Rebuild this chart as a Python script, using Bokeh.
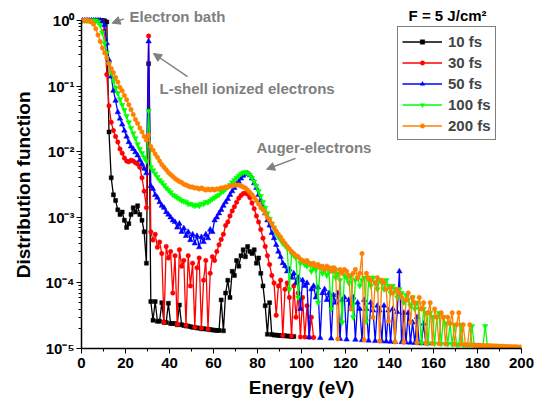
import numpy as np
from bokeh.plotting import figure
from bokeh.models import (FixedTicker, Legend, LegendItem, Label, Arrow, NormalHead,
                          CustomJSTickFormatter, Range1d)
from bokeh.embed import file_html
from bokeh.resources import INLINE

# energy grid (eV), 1 eV bins centred on half-integers
energy = np.arange(0.5, 200.0, 1.0)

f_10fs = [
    1.0, 1.0, 1.0, 1.0, 1.0, 1.0, 1.0, 1.0, 1.0, 1.0,
    0.99, 0.95, 0.02, 4e-3, 2.2e-3, 1.8e-3, 1.3e-3, 1.1e-3, 1.2e-3, 9e-4,
    7e-4, 8e-4, 1.1e-3, 1.4e-3, 1.2e-3, 1.5e-3, 1.1e-3, 9e-4, 6e-4, 2e-4,
    0.22, 5.2e-5, 2.7e-5, 5.2e-5, 2.6e-5, 2.6e-5, 5e-5, 2.5e-5, 2.5e-5, 4.9e-5,
    2.4e-5, 2.4e-5, 2.4e-5, 2.3e-5, 4.6e-5, 2.3e-5, 2.25e-5, 2.2e-5, 2.2e-5, 2.15e-5,
    2.1e-5, 2.1e-5, 2.05e-5, 2.05e-5, 2.0e-5, 2.0e-5, 1.98e-5, 1.96e-5, 1.94e-5, 1.92e-5,
    1.9e-5, 1.88e-5, 1.88e-5, 5.5e-5, 1.86e-5, 7e-5, 1.1e-4, 6e-5, 1.5e-4, 1.3e-4,
    2.2e-4, 1.8e-4, 2.6e-4, 3.2e-4, 2.5e-4, 3.6e-4, 3.0e-4, 2.8e-4, 3.2e-4, 2.0e-4,
    2.4e-4, 1.4e-4, 9e-5, 4.5e-5, 1.65e-5, 5e-5, 1.63e-5, 1.6e-5, 1.6e-5, 1.58e-5,
    1.58e-5, 1.57e-5, 1.56e-5, 1.55e-5, 1.54e-5, 1.53e-5, 1.52e-5,
]

f_30fs = [
    1.0, 1.0, 1.0, 1.0, 1.0, 1.0, 1.0, 1.0, 1.0, 0.97,
    0.7, 0.15, 0.05, 0.028, 0.021, 0.017, 0.014, 0.011, 9.5e-3, 8e-3,
    7.2e-3, 7.0e-3, 7.4e-3, 7.2e-3, 6.8e-3, 6.5e-3, 5.8e-3, 4e-3, 2.5e-3, 1.4e-3,
    0.58, 6e-4, 4.5e-4, 5.5e-4, 3.5e-4, 4.2e-4, 2.8e-4, 2.5e-5, 3.6e-4, 2.4e-4,
    3.0e-4, 7e-5, 2.6e-4, 2.35e-5, 3.2e-4, 1.8e-4, 2.2e-4, 2.25e-5, 2.6e-4, 9e-5,
    2.0e-4, 2.1e-5, 1.7e-4, 2.4e-4, 2.05e-5, 1.1e-4, 2.2e-4, 1.96e-5, 1.4e-4, 2.5e-4,
    2.2e-4, 3.0e-4, 3.8e-4, 4.6e-4, 5.5e-4, 7.5e-4, 8.5e-4, 1.05e-3, 1.25e-3, 1.45e-3,
    1.7e-3, 1.95e-3, 2.15e-3, 2.3e-3, 2.35e-3, 2.25e-3, 2.0e-3, 1.65e-3, 1.35e-3, 1.05e-3,
    8.5e-4, 6.5e-4, 4.8e-4, 3.6e-4, 2.6e-4, 1.9e-4, 1.3e-4, 1.0e-4, 3.2e-5, 9e-5,
    1.1e-4, 1.58e-5, 8e-5, 1.0e-4, 6e-5, 1.55e-5, 9e-5, 3e-5, 7e-5, 1.5e-5,
    6e-5, 1.5e-5, 4.5e-5, 1.48e-5, 3e-5, 1.47e-5,
]

f_50fs = [
    1.0, 1.0, 1.0, 1.0, 1.0, 1.0, 1.0, 1.0, 1.0, 0.98,
    0.85, 0.45, 0.25, 0.14, 0.085, 0.06, 0.04, 0.032, 0.026, 0.021,
    0.017, 0.014, 0.012, 0.011, 0.0098, 0.0088, 0.0075, 0.0065, 0.0055, 0.0047,
    0.48, 0.003, 0.0027, 0.0022, 0.002, 0.0017, 0.0015, 0.0014, 0.0012, 0.0011,
    0.001, 0.0009, 0.00085, 0.0007, 0.0008, 0.0006, 0.00068, 0.00052, 0.0006, 0.00045,
    0.00055, 0.0004, 0.00052, 0.00035, 0.0005, 0.00042, 0.00055, 0.00048, 0.00065, 0.0006,
    9e-4, 1.0e-3, 1.15e-3, 1.3e-3, 1.5e-3, 1.7e-3, 1.9e-3, 2.2e-3, 2.5e-3, 2.8e-3,
    3.2e-3, 3.5e-3, 3.9e-3, 4.3e-3, 4.6e-3, 4.7e-3, 4.4e-3, 3.9e-3, 3.3e-3, 2.8e-3,
    2.2e-3, 1.8e-3, 1.45e-3, 1.15e-3, 9e-4, 7.5e-4, 5.8e-4, 4.8e-4, 3.8e-4, 3.0e-4,
    2.5e-4, 2.0e-4, 1.8e-4, 1.5e-4, 1.6e-4, 1.2e-4, 1.4e-4, 1.0e-4, 1.2e-4, 4e-5,
    1.1e-4, 9e-5, 1.0e-4, 1.48e-5, 8e-5, 9e-5, 6e-5, 8.5e-5, 1.45e-5, 7e-5,
    8e-5, 5.5e-5, 7e-5, 1.42e-5, 6.5e-5, 5e-5, 7e-5, 1.4e-5, 5.5e-5, 6e-5,
    1.37e-5, 5.5e-5, 4e-5, 6e-5, 1.36e-5, 5e-5, 4e-5, 1.34e-5, 5.5e-5, 4e-5,
    1.32e-5, 5e-5, 3.8e-5, 1.3e-5, 4.5e-5, 3.8e-5, 1.29e-5, 4.5e-5, 1.28e-5, 3.8e-5,
    1.27e-5, 4e-5, 1.26e-5, 3.6e-5, 1.5e-4, 1.25e-5, 3.5e-5, 1.24e-5, 3.5e-5, 1.23e-5,
    2.5e-5, 1.22e-5, 3e-5, 1.21e-5, 1.21e-5, 2.4e-5, 1.2e-5, 1.2e-5,
]

f_100fs = [
    1.0, 1.0, 1.0, 1.0, 1.0, 1.0, 1.0, 0.95, 0.85, 0.65,
    0.45, 0.32, 0.22, 0.16, 0.12, 0.095, 0.078, 0.063, 0.052, 0.043,
    0.035, 0.028, 0.023, 0.019, 0.016, 0.013, 0.011, 0.0095, 0.0082, 0.0072,
    0.042, 0.0058, 0.0052, 0.0046, 0.0041, 0.0037, 0.0034, 0.0031, 0.0028, 0.0026,
    0.0024, 0.0022, 0.0021, 0.002, 0.0019, 0.0018, 0.00175, 0.0017, 0.0016, 0.0016,
    0.00155, 0.0015, 0.00155, 0.0015, 0.0016, 0.0016, 0.0017, 0.0017, 0.0018, 0.0019,
    0.002, 0.0021, 0.0022, 0.0024, 0.0025, 0.0027, 0.0029, 0.0031, 0.0034, 0.0037,
    0.004, 0.0043, 0.0046, 0.0048, 0.0049, 0.0047, 0.0044, 0.004, 0.0035, 0.003,
    0.0025, 0.0021, 0.0017, 0.0014, 0.00115, 0.00095, 0.0008, 0.00068, 0.00058, 0.0005,
    0.00045, 0.0004, 0.00037, 0.00034, 8e-5, 0.00028, 0.00026, 0.00024, 6e-5, 0.0002,
    0.00021, 0.00019, 0.00018, 0.0002, 0.00015, 0.00017, 0.00016, 5e-5, 0.00018, 0.00014,
    0.00016, 0.00013, 0.00015, 4e-5, 0.00017, 0.00012, 0.00014, 0.00011, 2.5e-5, 0.00013,
    0.00012, 0.0001, 0.00013, 3e-5, 0.00011, 0.00012, 9e-5, 0.00011, 0.00012, 2.6e-5,
    0.00011, 9e-5, 0.00012, 0.0001, 8e-5, 0.00011, 0.0001, 8e-5, 0.00011, 9e-5,
    7e-5, 9e-5, 8e-5, 6e-5, 8e-5, 7e-5, 5e-5, 6.5e-5, 5.5e-5, 4.5e-5,
    6e-5, 4e-5, 5e-5, 4e-5, 1.22e-5, 4e-5, 3.5e-5, 1.2e-5, 3.5e-5, 3e-5,
    1.19e-5, 3e-5, 3.5e-5, 1.18e-5, 3e-5, 2.4e-5, 1.17e-5, 2.4e-5, 1.16e-5, 2.3e-5,
    1.15e-5, 1.15e-5, 2.3e-5, 1.14e-5, 1.14e-5, 1.13e-5, 1.13e-5, 2.2e-5, 1.12e-5, 1.12e-5,
    1.11e-5, 1.11e-5, 1.11e-5, 2.2e-5, 1.1e-5, 1.1e-5, 1.1e-5, 1.09e-5, 1.09e-5, 1.09e-5,
]

f_200fs = [
    1.0, 1.0, 1.0, 0.98, 0.95, 0.88, 0.75, 0.6, 0.48, 0.38,
    0.32, 0.27, 0.22, 0.185, 0.16, 0.135, 0.115, 0.095, 0.085, 0.072,
    0.062, 0.052, 0.044, 0.037, 0.031, 0.027, 0.023, 0.02, 0.017, 0.015,
    0.018, 0.012, 0.0105, 0.0092, 0.0082, 0.0072, 0.0064, 0.0058, 0.0053, 0.0048,
    0.0045, 0.0042, 0.0039, 0.0037, 0.0035, 0.0034, 0.0032, 0.0031, 0.003, 0.0029,
    0.0029, 0.0028, 0.0028, 0.0027, 0.0028, 0.0027, 0.0026, 0.0027, 0.0026, 0.0027,
    0.0026, 0.0027, 0.0027, 0.0028, 0.0028, 0.0029, 0.0029, 0.003, 0.003, 0.0031,
    0.0031, 0.0031, 0.003, 0.0029, 0.0028, 0.0026, 0.0024, 0.0022, 0.002, 0.0018,
    0.0016, 0.0014, 0.0013, 0.00115, 0.001, 0.0009, 0.0008, 0.0007, 0.00062, 0.00055,
    0.0005, 0.00044, 0.0004, 0.00036, 0.00033, 0.0003, 0.00028, 0.00026, 0.00025, 0.00023,
    0.00022, 0.00021, 0.00022, 0.0002, 0.00019, 0.0002, 0.00018, 0.00019, 0.00017, 0.00018,
    0.00016, 0.00018, 0.00017, 0.00015, 0.00017, 0.00016, 1.4e-5, 0.00016, 0.00014, 0.00016,
    0.00015, 0.00013, 4e-5, 0.00014, 0.00016, 0.00012, 0.00014, 0.00028, 1.35e-5, 0.00014,
    0.00012, 0.00011, 3e-5, 0.0001, 0.00012, 1.3e-5, 0.00011, 0.0001, 8e-5, 2.6e-5,
    8.5e-5, 7e-5, 1.26e-5, 8e-5, 7e-5, 6e-5, 1.25e-5, 5.5e-5, 7e-5, 2.5e-5,
    6e-5, 5e-5, 1.22e-5, 6e-5, 4e-5, 5e-5, 1.2e-5, 3.5e-5, 5e-5, 1.19e-5,
    4e-5, 3e-5, 1.18e-5, 3.5e-5, 3e-5, 1.17e-5, 3e-5, 2.4e-5, 3.5e-5, 1.16e-5,
    2.3e-5, 3.5e-5, 1.15e-5, 2.3e-5, 1.14e-5, 1.14e-5, 2.3e-5, 1.13e-5, 1.13e-5, 1.12e-5,
    1.12e-5, 1.11e-5, 1.11e-5, 1.1e-5, 1.1e-5, 1.1e-5, 1.09e-5, 1.09e-5, 1.09e-5, 1.08e-5,
    1.08e-5, 1.08e-5, 1.07e-5, 1.07e-5, 1.07e-5, 1.06e-5, 1.06e-5, 1.06e-5, 1.05e-5, 1.05e-5,
]

series_labels = ["10 fs", "30 fs", "50 fs", "100 fs", "200 fs"]
series_values = [f_10fs, f_30fs, f_50fs, f_100fs, f_200fs]
series_colors = ["#000000", "#FF0000", "#0000FF", "#00FF00", "#FF8000"]
series_markers = ["square", "circle", "triangle", "inverted_triangle", "circle"]
series_sizes = [4, 4.5, 5.5, 5.5, 4.5]

x_ticks = [0, 20, 40, 60, 80, 100, 120, 140, 160, 180, 200]
y_ticks = [1e-5, 1e-4, 1e-3, 1e-2, 1e-1, 1.0]

FONT = "Liberation Sans"
GRAY = "#808080"
NB = "\u00A0"

# frame top sits 15px above the 10^0 level (65.6 px per decade)
p = figure(width=536, height=401, output_backend="svg", toolbar_location=None,
           x_range=Range1d(0, 200), y_range=Range1d(1e-5, 1.693), y_axis_type="log",
           min_border_left=81, min_border_right=15, min_border_top=5, min_border_bottom=53)
p.outline_line_color = None
p.xgrid.grid_line_color = None
p.ygrid.grid_line_color = None
p.background_fill_color = "white"

items = []
for lab, vals, col, mk, sz in zip(series_labels, series_values, series_colors,
                                  series_markers, series_sizes):
    xs = energy[:len(vals)]
    r_line = p.line(xs, vals, line_color=col, line_width=1.3)
    r_pts = p.scatter(xs, vals, marker=mk, size=sz, fill_color=col, line_color=col,
                      line_width=0.5)
    items.append(LegendItem(label=lab, renderers=[r_line, r_pts]))

minor_x = [10, 30, 50, 70, 90, 110, 130, 150, 170, 190]
p.xaxis.ticker = FixedTicker(ticks=x_ticks, minor_ticks=minor_x)
minor_y = [m * 10.0 ** k for k in range(-5, 0) for m in range(2, 10)]
p.yaxis.ticker = FixedTicker(ticks=y_ticks, minor_ticks=minor_y)
p.yaxis.bounds = (1e-5, 1.0)
p.yaxis.formatter = CustomJSTickFormatter(code="""
const e = Math.round(Math.log10(tick));
const sup = {'-':'\u207B','0':'\u2070','1':'\u00B9','2':'\u00B2','3':'\u00B3','4':'\u2074','5':'\u2075','6':'\u2076','7':'\u2077','8':'\u2078','9':'\u2079'};
return '10' + String(e).split('').map(c => sup[c]).join('');
""")

for ax in (p.xaxis[0], p.yaxis[0]):
    ax.axis_line_width = 1.5
    ax.axis_line_color = "black"
    ax.major_tick_in = 0
    ax.major_tick_out = 5
    ax.minor_tick_in = 0
    ax.minor_tick_out = 3
    ax.major_tick_line_color = "black"
    ax.minor_tick_line_color = "black"
    ax.major_label_text_font = FONT
    ax.major_label_text_font_style = "bold"
    ax.major_label_text_font_size = "15px"
    ax.major_label_text_color = "black"
    ax.axis_label_text_font = FONT
    ax.axis_label_text_font_style = "bold"
    ax.axis_label_text_font_size = "19px"
    ax.axis_label_text_color = "black"

p.xaxis.axis_label = "Energy (eV)"
p.yaxis.axis_label = "Distribution function" + NB * 3
p.xaxis.major_label_standoff = 4
p.xaxis.axis_label_standoff = 6
p.yaxis.major_label_standoff = 2
p.yaxis.axis_label_standoff = 8

legend = Legend(items=items, location=(316, 208), border_line_color="black",
                border_line_width=1, background_fill_color="white", background_fill_alpha=1,
                label_text_font=FONT, label_text_font_style="bold", label_text_font_size="15px",
                glyph_width=40, glyph_height=11, label_height=20, spacing=1, padding=4,
                margin=0, label_standoff=6)
p.add_layout(legend)

p.add_layout(Label(x=166.4, y=1.19, text="F = 5 J/cm\u00B2", text_align="center",
                   text_baseline="middle", text_font=FONT, text_font_style="bold",
                   text_font_size="15px", text_color="black"))

# annotations
annotations = [
    ("Electron bath", 21.8, 1.15, 19.2, 1.06, 13.9, 0.91),
    ("L-shell ionized electrons", 35.5, 0.092, 48.2, 0.14, 32.7, 0.314),
    ("Auger-electrons", 79.5, 0.0116, 97.3, 7.9e-3, 84.1, 5.4e-3),
]
for txt, tx, ty, xs0, ys0, xe, ye in annotations:
    p.add_layout(Label(x=tx, y=ty, text=txt, text_align="left", text_baseline="middle",
                       text_font=FONT, text_font_style="bold", text_font_size="15px",
                       text_color=GRAY))
    p.add_layout(Arrow(end=NormalHead(size=8, fill_color=GRAY, line_color=GRAY),
                       x_start=xs0, y_start=ys0, x_end=xe, y_end=ye,
                       line_color=GRAY, line_width=1.5))

open("out.html", "w").write(file_html(p, INLINE))
